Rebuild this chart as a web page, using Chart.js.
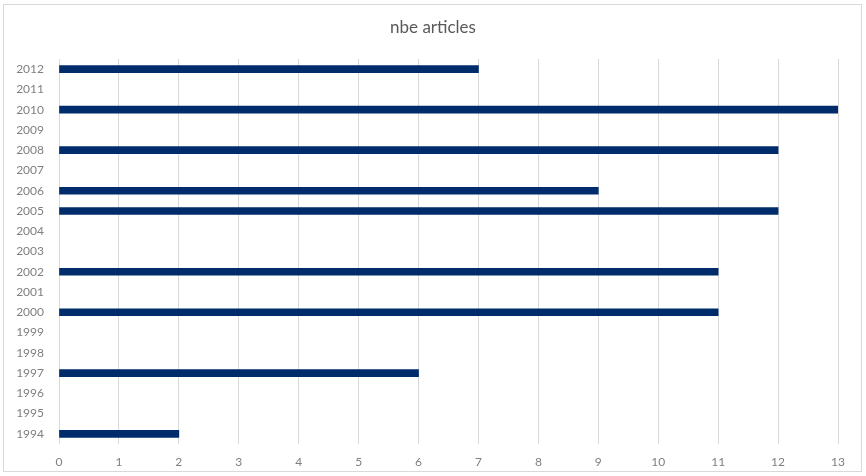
<!DOCTYPE html>
<html>
<head>
<meta charset="utf-8">
<script src="https://cdn.jsdelivr.net/npm/chart.js@4"></script>
<style>
  html, body { margin: 0; padding: 0; background: #fff; }
  #wrap { position: relative; width: 866px; height: 476px; }
  #frame { position: absolute; left: 3px; top: 4px; width: 857px; height: 466px; border: 1px solid #d9d9d9; }
  canvas { position: absolute; left: 0; top: 0; }
</style>
</head>
<body>
<div id="wrap">
  <div id="frame"></div>
  <canvas id="myChart" width="866" height="476"></canvas>
</div>
<script>
/* global Chart */

// years, top to bottom as in the picture
const years = ['2012', '2011', '2010', '2009', '2008', '2007', '2006', '2005', '2004', '2003',
  '2002', '2001', '2000', '1999', '1998', '1997', '1996', '1995', '1994'];
const articles = [7, 0, 13, 0, 12, 0, 9, 12, 0, 0, 11, 0, 11, 0, 0, 6, 0, 0, 2];
const xTicks = [0, 1, 2, 3, 4, 5, 6, 7, 8, 9, 10, 11, 12, 13];
const titleText = 'nbe articles';

const font = 'Lato, "Open Sans", sans-serif';

// title centred on the whole canvas, like the original
const titlePlugin = {
  id: 'pageTitle',
  afterDraw: function(chart) {
    const c = chart.ctx;
    c.save();
    c.font = '17px ' + font;
    c.fillStyle = '#595959';
    c.textAlign = 'center';
    c.textBaseline = 'middle';
    c.fillText(titleText, chart.width / 2, 28);
    c.restore();
  }
};

const ctx = document.getElementById('myChart').getContext('2d');

const chart = new Chart(ctx, {
  type: 'bar',
  data: {
    labels: years,
    datasets: [{
      label: titleText,
      backgroundColor: '#002c6b',
      borderWidth: 0,
      barThickness: 7,
      // zero years get no bar at all
      data: articles.map(function(v) { return v === 0 ? null : v; }),
    }]
  },
  plugins: [titlePlugin],
  options: {
    indexAxis: 'y',
    responsive: false,
    animation: false,
    layout: { padding: { top: 59, right: 28, bottom: 0, left: 0 } },
    plugins: {
      legend: { display: false },
      tooltip: { enabled: false },
    },
    scales: {
      x: {
        min: xTicks[0],
        max: xTicks[xTicks.length - 1],
        afterBuildTicks: function(axis) {
          axis.ticks = xTicks.map(function(v) { return { value: v }; });
        },
        afterFit: function(axis) { axis.height = 32; },
        grid: { color: '#d9d9d9', drawTicks: false },
        border: { display: false },
        ticks: { color: '#7f7f7f', padding: 11, font: { family: font, size: 12 } },
      },
      y: {
        afterFit: function(axis) { axis.width = 59; },
        grid: { display: false, drawTicks: false },
        border: { display: false },
        ticks: { color: '#7f7f7f', padding: 15, font: { family: font, size: 12 } },
      },
    },
  },
});
console.log(chart);
</script>
</body>
</html>
